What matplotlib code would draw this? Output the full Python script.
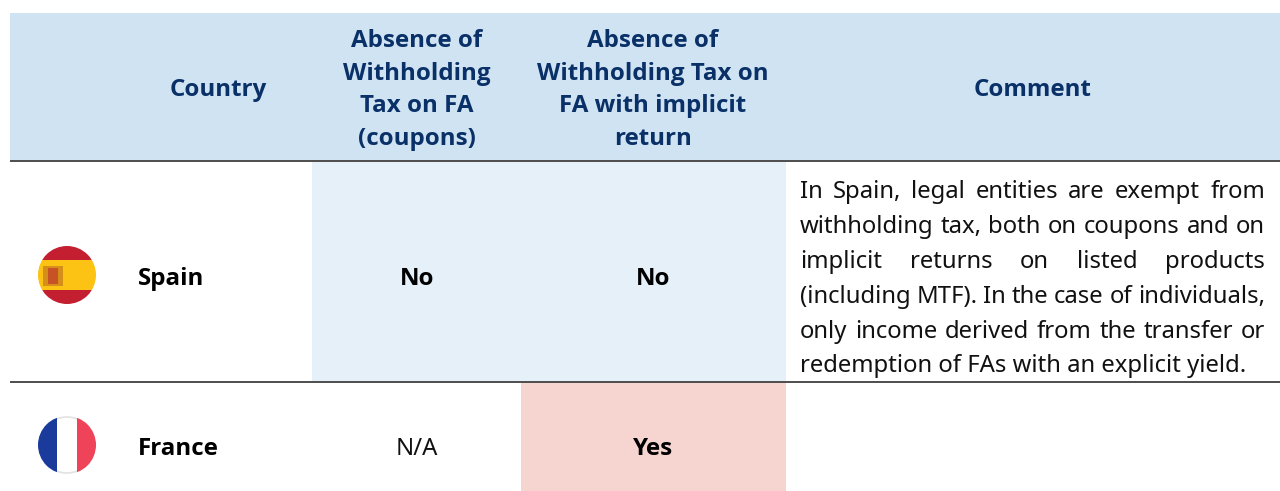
import matplotlib
matplotlib.use("Agg")
import matplotlib.pyplot as plt
from matplotlib.patches import Circle, Rectangle

plt.rcParams['font.family'] = ['Noto Sans', 'DejaVu Sans']

country_head = "Country"
coupon_head = ["Absence of", "Withholding", "Tax on FA", "(coupons)"]
implicit_head = ["Absence of", "Withholding Tax on", "FA with implicit", "return"]
comment_head = "Comment"
countries = ["Spain", "France"]
coupons = ["No", "N/A"]
implicit = ["No", "Yes"]
comment_lines = [
    "In Spain, legal entities are exempt from",
    "withholding tax, both on coupons and on",
    "implicit returns on listed products",
    "(including MTF). In the case of individuals,",
    "only income derived from the transfer or",
    "redemption of FAs with an explicit yield.",
]

NAVY = "#0a3068"
HEAD_BG = "#cfe3f2"
LIGHT_BLUE = "#e5f0f8"
PINK = "#f6d5d1"
LINE = "#4d4d4d"
FS = 17.2
BOLD_FS = 17.4


def bold(ax, x, y, s, color="black", ha="center"):
    ax.text(x, y, s, fontsize=BOLD_FS, family="Open Sans", fontweight="bold", color=color, ha=ha, va="baseline")


def draw_flag(ax, cx, cy, r, bands, vertical=False):
    clip = Circle((cx, cy), r, transform=ax.transData)
    for start, end, col in bands:
        if vertical:
            p = Rectangle((cx - r + start * 2 * r, cy - r), (end - start) * 2 * r, 2 * r, color=col, lw=0)
        else:
            p = Rectangle((cx - r, cy - r + start * 2 * r), 2 * r, (end - start) * 2 * r, color=col, lw=0)
        ax.add_patch(p)
        p.set_clip_path(clip)


def justified(ax, fig, line, x0, x1, y):
    words = line.split(" ")
    r = fig.canvas.get_renderer()
    widths = []
    for w in words:
        t = ax.text(0, 0, w, fontsize=FS)
        widths.append(t.get_window_extent(r).width)
        t.remove()
    gap = (x1 - x0 - sum(widths)) / (len(words) - 1)
    x = x0
    for w, wd in zip(words, widths):
        ax.text(x, y, w, fontsize=FS, color="#111111", va="baseline", ha="left")
        x += wd + gap


fig = plt.figure(figsize=(12.8, 4.91), dpi=100)
ax = fig.add_axes([0, 0, 1, 1])
ax.set_xlim(0, 1280)
ax.set_ylim(491, 0)
ax.axis("off")

ax.add_patch(Rectangle((10, 13), 1270, 147, color=HEAD_BG, lw=0))
ax.add_patch(Rectangle((312, 161), 474, 220, color=LIGHT_BLUE, lw=0))
ax.add_patch(Rectangle((521, 382), 265, 109, color=PINK, lw=0))
ax.plot([10, 1280], [160.5, 160.5], color=LINE, lw=1.4, solid_capstyle="butt")
ax.plot([10, 1280], [381.5, 381.5], color=LINE, lw=1.4, solid_capstyle="butt")

head_y = [47, 80, 112, 145]
bold(ax, 218, 96, country_head, NAVY)
bold(ax, 1033, 96, comment_head, NAVY)
for y, a, b in zip(head_y, coupon_head, implicit_head):
    bold(ax, 417, y, a, NAVY)
    bold(ax, 653, y, b, NAVY)

row_y = [285, 455]
for i, y in enumerate(row_y):
    bold(ax, 138, y, countries[i], ha="left")
    if coupons[i] == "N/A":
        ax.text(417, y, coupons[i], fontsize=FS, color="#111111", ha="center", va="baseline")
    else:
        bold(ax, 417, y, coupons[i])
    bold(ax, 653, y, implicit[i])

# flags
draw_flag(ax, 67, 275, 29, [(0, 0.24, "#c41f30"), (0.24, 0.76, "#fcc314"), (0.76, 1, "#c41f30")])
ax.add_patch(Rectangle((43, 266), 20, 20, color="#b5651d", alpha=0.55, lw=0))
ax.add_patch(Rectangle((48, 268), 10, 16, color="#c0392b", alpha=0.7, lw=0))
draw_flag(ax, 67, 445, 29, [(0, 0.33, "#1a3a9c"), (0.33, 0.67, "white"), (0.67, 1, "#ee4358")], vertical=True)
rim = Circle((67, 445), 28, fill=False, ec="#e2e2e2", lw=1.2)
ax.add_patch(rim)
rim.set_clip_path(Rectangle((57, 416), 20, 58, transform=ax.transData))

fig.canvas.draw()
line_y = [198, 233, 268, 303, 338, 372]
for l, y in zip(comment_lines[:-1], line_y[:-1]):
    justified(ax, fig, l, 800, 1265, y)
ax.text(800, line_y[-1], comment_lines[-1], fontsize=FS, color="#111111", va="baseline")

fig.savefig("out.png", dpi=100)
